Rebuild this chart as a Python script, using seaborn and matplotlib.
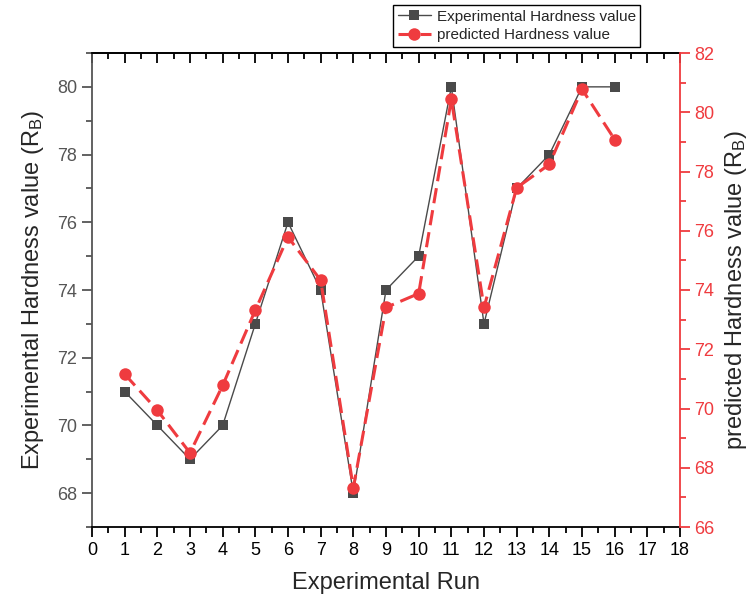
import numpy as np
import pandas as pd
import matplotlib
matplotlib.use('Agg')
import matplotlib.pyplot as plt
from matplotlib.ticker import MultipleLocator
import seaborn as sns

runs = list(range(1, 17))
experimental = [71, 70, 69, 70, 73, 76, 74, 68, 74, 75, 80, 73, 77, 78, 80, 80]
predicted = [71.16, 69.94, 68.50, 70.78, 73.32, 75.79, 74.33, 67.32,
             73.41, 73.88, 80.44, 73.41, 77.45, 78.24, 80.78, 79.08]

df = pd.DataFrame({'run': runs, 'exp': experimental, 'pred': predicted})

sns.set_style('ticks')
plt.rcParams['font.family'] = ['Liberation Sans', 'DejaVu Sans']
plt.rcParams['mathtext.fontset'] = 'custom'
plt.rcParams['mathtext.rm'] = 'Liberation Sans'
plt.rcParams['mathtext.it'] = 'Liberation Sans'

grey = '#4a4a4a'
red = '#ef3b3f'

fig = plt.figure(figsize=(7.51, 6.05), dpi=100)
ax = fig.add_axes([92/751, 1 - 527/605, (680 - 92)/751, (527 - 53)/605])
ax2 = ax.twinx()

sns.lineplot(data=df, x='run', y='exp', ax=ax, color=grey, lw=1, marker='s',
             markersize=7.5, markeredgewidth=0, label='Experimental Hardness value',
             legend=False)
sns.lineplot(data=df, x='run', y='pred', ax=ax2, color=red, lw=2.2, linestyle='--',
             marker='o', markersize=9, markeredgewidth=0,
             label='predicted Hardness value', legend=False)
ax2.lines[0].set_dashes((5, 2.3))

ax.set_xlim(0, 18)
ax.set_ylim(67, 81)
ax2.set_ylim(66, 82)
ax.xaxis.set_major_locator(MultipleLocator(1))
ax.xaxis.set_minor_locator(MultipleLocator(0.5))
ax.yaxis.set_major_locator(MultipleLocator(2))
ax.yaxis.set_minor_locator(MultipleLocator(1))
ax2.yaxis.set_major_locator(MultipleLocator(2))
ax2.yaxis.set_minor_locator(MultipleLocator(1))

for side in ['top', 'bottom', 'left', 'right']:
    ax.spines[side].set_linewidth(1.3)
    ax2.spines[side].set_linewidth(1.3)
ax.spines['left'].set_color('#555555')
ax.spines['top'].set_color('black')
ax.spines['bottom'].set_color('black')
ax2.spines['right'].set_color(red)
ax2.spines['left'].set_visible(False)
ax2.spines['top'].set_visible(False)
ax2.spines['bottom'].set_visible(False)
ax.spines['right'].set_visible(False)

ax.tick_params(axis='x', which='both', direction='out', top=False, bottom=True,
               color='black', width=1.3, labelsize=13, labelcolor='black')
ax.tick_params(axis='x', which='major', length=7)
ax.tick_params(axis='x', which='minor', length=4)
ax.tick_params(axis='y', which='both', direction='out', color='#555555', width=1.3,
               labelsize=13, labelcolor='#555555')
ax.tick_params(axis='y', which='major', length=7)
ax.tick_params(axis='y', which='minor', length=4)
ax2.tick_params(axis='y', which='both', direction='out', color=red, width=1.3,
                labelsize=13, labelcolor=red)
ax2.tick_params(axis='y', which='major', length=7)
ax2.tick_params(axis='y', which='minor', length=4)

# top axis: ticks pointing into the plot, no labels
top = ax.secondary_xaxis('top')
top.xaxis.set_major_locator(MultipleLocator(1))
top.xaxis.set_minor_locator(MultipleLocator(0.5))
top.tick_params(axis='x', which='both', direction='in', color='black', width=1.3,
                labeltop=False)
top.tick_params(axis='x', which='major', length=7)
top.tick_params(axis='x', which='minor', length=4)
top.spines['top'].set_linewidth(1.3)

ax.set_xlabel('Experimental Run', fontsize=17, labelpad=10)
ax.set_ylabel('Experimental Hardness value (R$_\\mathregular{B}$)', fontsize=17, labelpad=8)
ax2.set_ylabel('predicted Hardness value (R$_\\mathregular{B}$)', fontsize=17, labelpad=6)

handles = ax.get_lines()[:1] + ax2.get_lines()[:1]
leg = fig.legend(handles=handles, labels=[h.get_label() for h in handles],
                 loc='upper left', bbox_to_anchor=(393/751, 1 - 5/605),
                 fontsize=11, frameon=True, fancybox=False, edgecolor='black',
                 framealpha=1, borderpad=0.3, handlelength=2.2, handletextpad=0.35,
                 labelspacing=0.3, borderaxespad=0)
leg.get_frame().set_linewidth(1.0)

fig.savefig('out.png', dpi=100)
